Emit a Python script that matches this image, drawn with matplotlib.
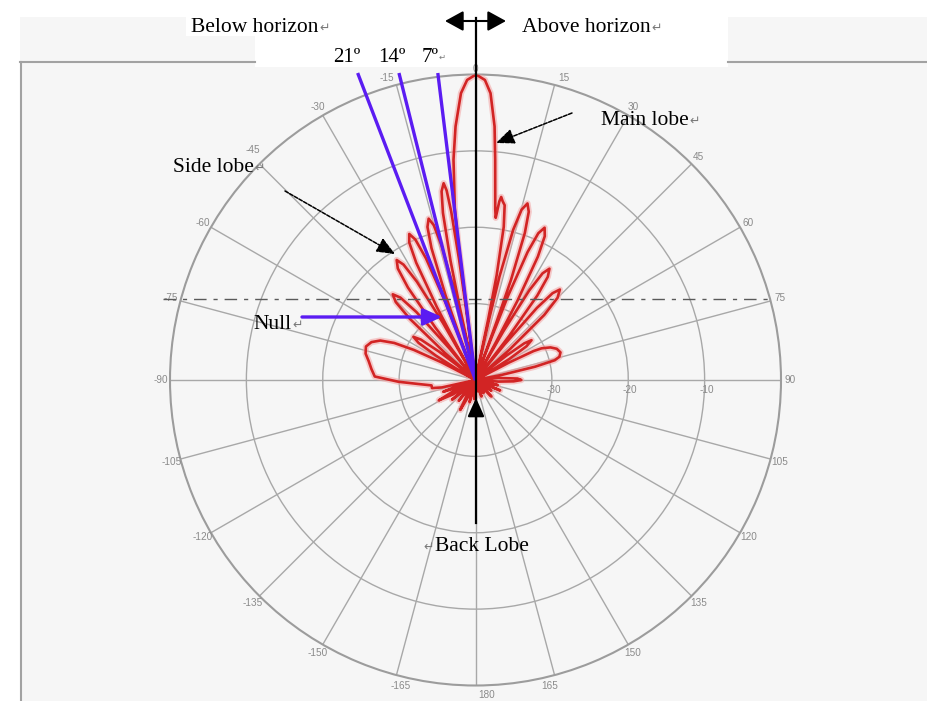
import numpy as np
import matplotlib
matplotlib.use("Agg")
import matplotlib.pyplot as plt
import matplotlib.transforms as mtransforms
from matplotlib.patches import Rectangle, FancyArrowPatch
from matplotlib.lines import Line2D

W, H = 927, 701

# Elevation radiation pattern: angle (deg, clockwise from zenith) and gain (dB)
pattern_deg = [
    # back lobes, left half
    -180, -178.4, -176, -173.6, -170, -168, -165, -162.6, -159,
    -156.6, -153, -150.6, -147, -144.6, -141, -138.8, -135.5,
    -133.3, -130, -128, -125, -122.6, -119, -117.2, -114.5,
    -112.7, -110, -108, -105,
    # wide lobe below the horizon
    -102.5, -100.5, -97, -94, -91.3, -88, -84, -80, -76.5, -73, -70,
    -67.5, -65.5, -64, -62.5, -61,
    # side lobes, left
    -59.3, -58.4, -56.9, -55.2, -53.5, -52.1, -51.2, -49.5,
    -48.4, -47.0, -45.65, -44.0, -42.35, -41.0, -39.6, -38.5,
    -38.0, -37.46, -36.16, -34.86, -33.3, -31.95, -30.8, -29.7, -29.25, -28.8,
    -28.36, -27.92, -26.82, -25.72, -24.4, -23.17, -22.15, -21.12, -20.71, -20.3,
    -19.89, -19.48, -18.46, -17.43, -16.2, -15.09, -14.17, -13.24, -12.87, -12.5,
    -12.17, -11.84, -11.02, -10.19, -9.2, -8.66, -8.21, -7.76, -7.58, -7.4,
    # main lobe
    -7.2, -6.9, -5.7, -4.5, -2.9, -1.6, 0.1, 1.8, 3.0, 4.3, 5.1, 6.6, 7.1,
    # side lobes, right
    7.6, 8.0, 8.6, 9.47, 10.45, 11.42, 11.81, 12.2,
    12.62, 13.04, 14.09, 15.14, 16.4, 17.57, 18.55, 19.52, 19.91, 20.3,
    20.71, 21.12, 22.15, 23.17, 24.4, 25.72, 26.82, 27.92, 28.36, 28.8,
    29.28, 29.76, 30.96, 32.16, 33.6, 35.01, 36.19, 37.36, 37.83, 38.3,
    39.24, 40.42, 41.59, 43.0, 44.95, 46.58, 48.2, 49.5,
    51.03, 51.8, 53.07, 54.6, 56.52, 58.12, 59.08, 61.0,
    62.5, 63.5, 64.4, 66.5, 69, 72, 74.5, 76, 77.4, 79, 81,
    85, 88, 90, 92, 94, 97,
    # back lobes, right half
    100.6, 103, 105, 108, 111, 113, 115, 118, 121.6, 124, 126.4, 130,
    133.6, 136, 138.4, 142, 145.6, 148, 150.4, 154, 157.6, 160, 162.4, 166,
    169.6, 172, 175, 180,
]
pattern_db = [
    -40, -39.5, -37.5, -39.5, -40, -39, -37, -39, -40,
    -37.6, -35.6, -37.6, -40, -38.5, -36.5, -38.5, -40,
    -38, -36, -38, -40, -36.5, -34.5, -36.5, -40,
    -37.5, -35.5, -37.5, -40,
    -35.5, -34.2, -34.2, -32.5, -29.9, -26.8, -26.3, -25.8, -25.2, -25.0, -25.5,
    -26.5, -28.3, -31, -35, -40,
    -37.0, -33.9, -31.1, -30.1, -31.1, -33.9, -37.0, -40,
    -34.6, -28.2, -25.4, -24.4, -25.4, -28.2, -34.6, -40,
    -37.3, -31.4, -25.0, -22.2, -21.2, -22.2, -25.0, -31.4, -37.3, -40,
    -35.1, -29.2, -22.8, -20.0, -19.0, -20.0, -22.8, -29.2, -35.1, -40,
    -34.1, -28.2, -21.8, -19.0, -18.0, -19.0, -21.8, -28.2, -34.1, -40,
    -30.0, -24.1, -17.7, -14.9, -13.9, -14.9, -17.7, -24.1, -30.0, -40,
    -22, -17.5, -11.0, -6.7, -2.4, -0.7, 0.0, -0.7, -2.4, -6.7, -11.0, -17.5, -18.6,
    -16.4, -15.8, -16.3, -16.8, -19.6, -26.0, -31.9, -40,
    -32.0, -26.1, -19.7, -16.9, -15.9, -16.9, -19.7, -26.1, -32.0, -40,
    -34.2, -28.3, -21.9, -19.1, -18.1, -19.1, -21.9, -28.3, -34.2, -40,
    -38.6, -32.7, -26.3, -23.5, -22.5, -23.5, -26.3, -32.7, -38.6, -40,
    -34.0, -27.6, -24.8, -23.8, -24.8, -27.6, -34.0, -40,
    -37.9, -34.8, -32.0, -31.0, -32.0, -34.8, -37.9, -40,
    -35, -31.5, -30.4, -29.3, -28.6, -28.3, -28.6, -29.3, -32, -36.5, -40,
    -37, -34.5, -34, -35, -37, -40,
    -39, -37, -39, -40, -38.5, -36.5, -38.5, -40, -39.5, -37.5, -39.5, -40,
    -39, -37, -39, -40, -39.7, -38, -39.7, -40, -39.5, -37.7, -39.5, -40,
    -39.8, -38.5, -39.8, -40,
]

null_angles = [-21, -14, -7]
null_labels = ["21º", "14º", "7º"]
theta_ticks = list(range(-165, 181, 15))
ring_levels = [-30, -20, -10]
r_min, r_max = -40, 0

fig = plt.figure(figsize=(W / 100, H / 100), dpi=100)
fig.patch.set_facecolor("white")


def ff(x, y):
    """pixel position (from top-left) -> figure fraction"""
    return (x / W, 1 - y / H)


# page background and frame
panel_c = "#f6f6f6"
fig.add_artist(Rectangle(ff(20, 701), (W - 20) / W, (701 - 17) / H,
                         transform=fig.transFigure, facecolor=panel_c,
                         edgecolor="none", zorder=-10))
fig.add_artist(Rectangle(ff(255, 67), (728 - 255) / W, 67 / H,
                         transform=fig.transFigure, facecolor="white",
                         edgecolor="none", zorder=-9))
fig.add_artist(Rectangle(ff(186, 36), (255 - 186) / W, 36 / H,
                         transform=fig.transFigure, facecolor="white",
                         edgecolor="none", zorder=-9))
frame_c = "#a2a2a2"
for xs, ys in [((20, 255), (62, 62)), ((728, 927), (62, 62)), ((21, 21), (62, 701))]:
    p0, p1 = ff(xs[0], ys[0]), ff(xs[1], ys[1])
    fig.add_artist(Line2D([p0[0], p1[0]], [p0[1], p1[1]], transform=fig.transFigure,
                          color=frame_c, lw=1.5, zorder=-8))

# polar axes: centre (475.5, 380) px, radius 305.5 px
cx, cy, R = 475.5, 380.0, 305.5
ax = fig.add_axes([(cx - R) / W, 1 - (cy + R) / H, 2 * R / W, 2 * R / H], projection="polar")
ax.set_facecolor("none")
ax.set_theta_zero_location("N")
ax.set_theta_direction(-1)
ax.set_rlim(r_min, r_max)
ax.set_xticks(np.deg2rad(np.arange(0, 360, 15)))
ax.set_xticklabels([])
ax.set_xticks(np.deg2rad(np.arange(0, 360, 5)), minor=True)
ax.tick_params(axis="x", which="major", length=0)
ax.tick_params(axis="x", which="minor", direction="in", length=5, width=1, color="#8e8e8e")
ax.set_yticks(ring_levels)
ax.set_yticklabels([])
ax.grid(True, color="#a8a8a8", lw=1.0)
ax.spines["polar"].set_color("#9c9c9c")
ax.spines["polar"].set_linewidth(1.5)

# angle labels around the rim
grey = "#8a8a8a"
small = ["Liberation Sans", "DejaVu Sans"]
r_lab = r_min + (r_max - r_min) * 315 / R
for t in theta_ticks:
    ta = t
    rr = r_lab
    if abs(t) in (15, 165):
        ta = t + (1.3 if t > 0 else -1.3)
    elif t == 180:
        ta = 178
    elif t == 0:
        rr = r_lab - 0.5
    elif t == -45:
        ta = -44
        rr = r_min + (r_max - r_min) * 320 / R
    ax.text(np.deg2rad(ta), rr, str(t), ha="center", va="center", fontsize=7.2,
            color=grey, family=small, clip_on=False)

# ring labels below the 90° spoke
shift = mtransforms.ScaledTranslation(0.02, -0.10, fig.dpi_scale_trans)
for lv in ring_levels:
    ax.text(np.deg2rad(90), lv, str(lv), ha="center", va="center", fontsize=7.2,
            color=grey, family=small, transform=ax.transData + shift)

# radiation pattern
th = np.deg2rad(pattern_deg)
ax.plot(th, pattern_db, color="#f3a3a3", lw=4.5, alpha=0.55, zorder=3,
        solid_joinstyle="round")
ax.plot(th, pattern_db, color="#d22424", lw=1.9, zorder=3.5, solid_joinstyle="round")

# null direction lines, extended above the rim
for a in null_angles:
    r_end = r_min + (r_max - r_min) * (307 / R) / np.cos(np.deg2rad(a))
    ax.plot([np.deg2rad(a)] * 2, [r_min, r_end], color="#5b1cf2", lw=2.4,
            clip_on=False, zorder=4, solid_capstyle="butt")

# horizon reference (dash-dot) line
p0, p1 = ff(163, 299), ff(770, 299)
fig.add_artist(Line2D([p0[0], p1[0]], [p0[1], p1[1]], transform=fig.transFigure,
                      color="#5a5a5a", lw=1.0, linestyle=(0, (9, 5, 3, 5)), zorder=5))

# boresight line
p0, p1 = ff(476, 18), ff(476, 523)
fig.add_artist(Line2D([p0[0], p1[0]], [p0[1], p1[1]], transform=fig.transFigure,
                      color="black", lw=1.6, zorder=6))


def arrow(xy0, xy1, style, color="black", lw=1.2, ls="-", ms=18):
    fig.add_artist(FancyArrowPatch(ff(*xy0), ff(*xy1), transform=fig.transFigure,
                                   arrowstyle=style, mutation_scale=ms, color=color,
                                   lw=lw, linestyle=ls, shrinkA=0, shrinkB=0, zorder=7))


arrow((445, 21), (506, 21), "<|-|>,head_length=0.62,head_width=0.34", lw=1.5)
arrow((572, 113), (496, 143), "-|>,head_length=0.62,head_width=0.26", lw=1.1, ls=(0, (2.5, 1)))
arrow((285, 191), (395, 254), "-|>,head_length=0.62,head_width=0.26", lw=1.1, ls=(0, (2.5, 1)))
arrow((302, 317), (442, 317), "-|>,head_length=0.62,head_width=0.28", color="#5b1cf2", lw=2.4)
arrow((476, 440), (476, 398), "-|>,head_length=0.62,head_width=0.28", lw=1.6)

# annotations
serif = ["Liberation Serif", "DejaVu Serif"]
mark_font = ["DejaVu Sans"]
notes = [
    ("Below horizon", 191, 32, "after"),
    ("Above horizon", 522, 32, "after"),
    ("Main lobe", 601, 125, "after"),
    ("Side lobe", 173, 172, "after"),
    ("Null", 253, 329, "after"),
    ("Back Lobe", 435, 551, "before"),
]
renderer = fig.canvas.get_renderer()
for s, x, y, where in notes:
    t = fig.text(*ff(x, y), s, fontsize=15.5, family=serif, va="baseline", ha="left",
                 color="black", zorder=8)
    bb = t.get_window_extent(renderer)
    if where == "after":
        fig.text(bb.x1 / W + 0.001, 1 - y / H, "↵", fontsize=9, family=mark_font,
                 va="baseline", ha="left", color="#7a7a7a", zorder=8)
    else:
        fig.text(bb.x0 / W - 0.001, 1 - y / H, "↵", fontsize=9, family=mark_font,
                 va="baseline", ha="right", color="#7a7a7a", zorder=8)

for s, x in zip(null_labels, [333, 378, 422]):
    t = fig.text(*ff(x, 62), s, fontsize=15, family=serif, va="baseline", ha="left",
                 color="black", zorder=8)
    if s == "7º":
        bb = t.get_window_extent(renderer)
        fig.text(bb.x1 / W, 1 - 60 / H, "↵", fontsize=6, family=mark_font,
                 va="baseline", ha="left", color="#7a7a7a", zorder=8)

fig.savefig("out.png", dpi=100, facecolor="white")
